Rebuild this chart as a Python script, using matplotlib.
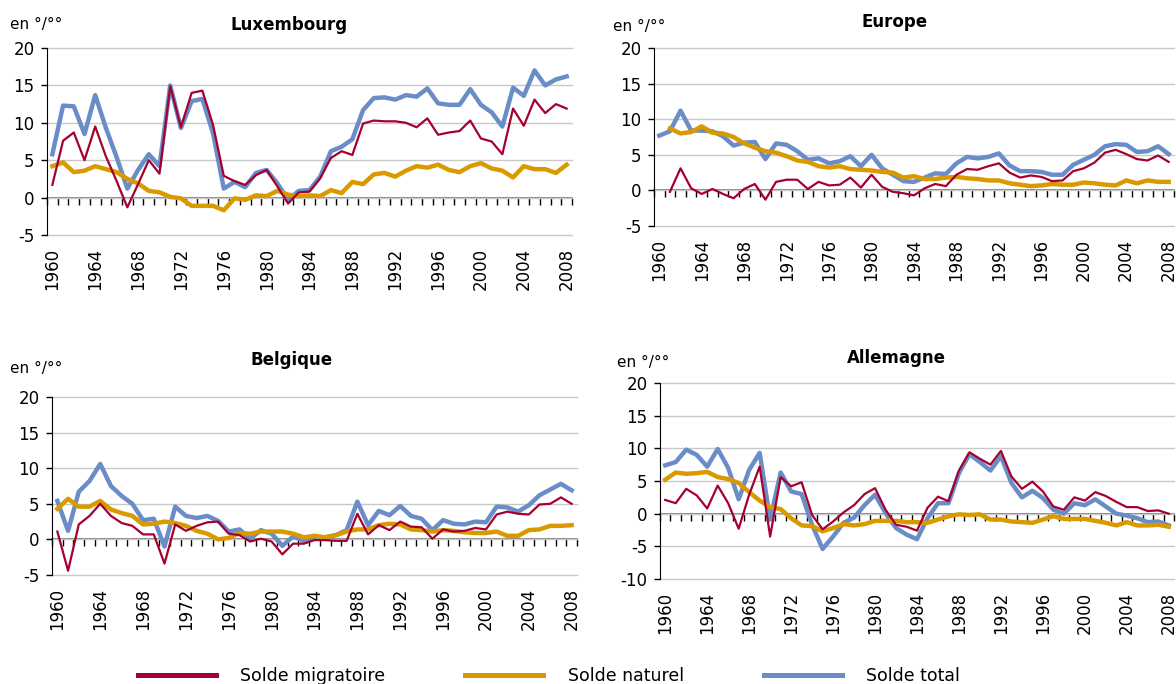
import matplotlib.pyplot as plt
from matplotlib.lines import Line2D
import numpy as np

plt.rcParams['axes.unicode_minus'] = False

years = list(range(1960, 2009))
label_years = list(range(1960, 2009, 4))
nan = float('nan')

# values in per mille
lux_migr = [1.7, 7.6, 8.7, 5.0, 9.5, 5.5, 2.2, -1.3, 1.8, 5.0,
            3.2, 14.9, 9.4, 14.0, 14.3, 9.7, 2.9, 2.2, 1.7, 3.0,
            3.7, 1.5, -0.8, 0.7, 0.8, 2.6, 5.3, 6.2, 5.7, 9.9,
            10.3, 10.2, 10.2, 10.0, 9.4, 10.6, 8.4, 8.7, 8.9, 10.3,
            7.9, 7.5, 5.8, 11.9, 9.6, 13.1, 11.3, 12.5, 11.9]
lux_nat = [4.2, 4.7, 3.4, 3.6, 4.2, 3.8, 3.4, 2.5, 1.9, 0.9,
           0.7, 0.1, -0.1, -1.1, -1.1, -1.1, -1.7, -0.1, -0.3, 0.3,
           0.2, 0.9, 0.4, 0.2, 0.3, 0.2, 1.0, 0.6, 2.1, 1.8,
           3.1, 3.3, 2.8, 3.6, 4.2, 4.0, 4.4, 3.7, 3.4, 4.2,
           4.6, 3.9, 3.6, 2.7, 4.2, 3.8, 3.8, 3.3, 4.4]
lux_tot = [5.8, 12.3, 12.2, 8.5, 13.7, 9.3, 5.4, 1.2, 3.7, 5.8,
           4.2, 15.0, 9.3, 12.9, 13.2, 8.6, 1.2, 2.1, 1.4, 3.3,
           3.7, 1.9, -0.3, 0.9, 1.0, 2.8, 6.2, 6.8, 7.8, 11.7,
           13.3, 13.4, 13.1, 13.7, 13.5, 14.6, 12.6, 12.4, 12.4, 14.5,
           12.4, 11.4, 9.5, 14.7, 13.6, 17.0, 15.0, 15.8, 16.2]

eu_migr = [nan, -0.2, 3.1, 0.3, -0.5, 0.2, -0.5, -1.1, 0.2, 0.9,
           -1.3, 1.2, 1.5, 1.5, 0.2, 1.2, 0.7, 0.8, 1.8, 0.4,
           2.2, 0.5, -0.2, -0.4, -0.7, 0.3, 0.9, 0.6, 2.2, 3.0,
           2.9, 3.4, 3.8, 2.5, 1.8, 2.1, 1.9, 1.3, 1.4, 2.7,
           3.1, 3.9, 5.3, 5.7, 5.1, 4.4, 4.2, 4.9, 4.0]
eu_nat = [nan, 8.7, 8.0, 8.2, 9.0, 8.1, 8.0, 7.5, 6.6, 6.0,
          5.5, 5.3, 4.8, 4.2, 4.0, 3.4, 3.2, 3.4, 3.0, 2.9,
          2.8, 2.6, 2.5, 1.8, 2.0, 1.6, 1.6, 1.8, 1.9, 1.7,
          1.6, 1.4, 1.4, 1.0, 0.8, 0.6, 0.7, 0.9, 0.8, 0.8,
          1.1, 1.0, 0.8, 0.7, 1.4, 1.0, 1.4, 1.2, 1.2]
eu_tot = [7.7, 8.3, 11.2, 8.4, 8.4, 8.3, 7.6, 6.3, 6.7, 6.8,
          4.4, 6.6, 6.4, 5.5, 4.3, 4.5, 3.8, 4.1, 4.8, 3.4,
          5.0, 3.1, 2.2, 1.3, 1.2, 1.8, 2.4, 2.3, 3.8, 4.7,
          4.5, 4.7, 5.2, 3.5, 2.7, 2.7, 2.6, 2.2, 2.2, 3.6,
          4.3, 5.0, 6.2, 6.5, 6.4, 5.4, 5.5, 6.2, 5.1]

be_migr = [1.1, -4.4, 2.1, 3.3, 5.0, 3.3, 2.3, 1.9, 0.7, 0.7,
           -3.4, 2.1, 1.2, 1.9, 2.4, 2.5, 0.8, 0.6, -0.3, 0.1,
           -0.3, -2.1, -0.6, -0.6, -0.1, -0.1, -0.2, -0.2, 3.6, 0.7,
           2.0, 1.3, 2.5, 1.8, 1.7, 0.1, 1.4, 1.1, 1.2, 1.6,
           1.4, 3.5, 3.9, 3.6, 3.5, 4.9, 5.0, 5.9, 5.0]
be_nat = [4.3, 5.7, 4.6, 4.6, 5.4, 4.2, 3.7, 3.3, 2.1, 2.2,
          2.5, 2.3, 1.9, 1.2, 0.8, 0.0, 0.2, 0.9, 0.8, 1.1,
          1.1, 1.1, 0.8, 0.3, 0.5, 0.3, 0.6, 1.1, 1.4, 1.4,
          2.0, 2.2, 2.1, 1.4, 1.3, 1.1, 1.3, 1.2, 1.0, 0.9,
          0.9, 1.1, 0.5, 0.5, 1.3, 1.4, 1.9, 1.9, 2.0]
be_tot = [5.4, 1.2, 6.7, 8.2, 10.6, 7.5, 6.1, 5.0, 2.7, 2.9,
          -1.0, 4.6, 3.3, 3.0, 3.3, 2.6, 1.1, 1.4, 0.1, 1.3,
          0.8, -0.9, 0.4, -0.2, 0.3, 0.3, 0.6, 1.3, 5.3, 2.0,
          4.0, 3.4, 4.7, 3.3, 2.9, 1.3, 2.7, 2.2, 2.1, 2.5,
          2.4, 4.6, 4.5, 3.9, 4.8, 6.2, 7.0, 7.8, 6.9]

de_migr = [2.1, 1.6, 3.8, 2.8, 0.8, 4.3, 1.6, -2.3, 2.9, 7.2,
           -3.5, 5.6, 4.2, 4.8, -0.2, -2.4, -1.2, 0.2, 1.3, 3.0,
           3.9, 0.6, -1.7, -2.0, -2.6, 0.9, 2.6, 1.9, 6.6, 9.4,
           8.4, 7.5, 9.6, 5.7, 3.8, 4.9, 3.4, 1.1, 0.6, 2.5,
           2.0, 3.3, 2.7, 1.8, 1.0, 1.0, 0.4, 0.5, 0.0]
de_nat = [5.2, 6.3, 6.1, 6.2, 6.4, 5.6, 5.3, 4.7, 3.3, 2.0,
          1.0, 0.7, -0.7, -1.8, -1.9, -2.7, -2.2, -1.6, -1.8, -1.6,
          -1.1, -1.1, -1.1, -1.3, -1.3, -1.4, -0.9, -0.4, -0.1, -0.2,
          -0.1, -0.9, -0.9, -1.2, -1.3, -1.4, -0.9, -0.4, -0.8, -0.8,
          -0.8, -1.1, -1.4, -1.8, -1.3, -1.8, -1.8, -1.7, -2.0]
de_tot = [7.4, 7.9, 9.8, 9.0, 7.2, 9.9, 7.0, 2.2, 6.7, 9.3,
          -0.9, 6.3, 3.4, 3.0, -1.7, -5.4, -3.5, -1.4, -0.6, 1.3,
          2.9, 0.1, -2.2, -3.2, -3.9, -0.7, 1.6, 1.6, 6.2, 9.1,
          7.9, 6.6, 8.8, 4.7, 2.5, 3.5, 2.4, 0.6, 0.0, 1.6,
          1.3, 2.2, 1.1, 0.0, -0.3, -0.7, -1.3, -1.2, -1.8]

series_names = ['Solde migratoire', 'Solde naturel', 'Solde total']

W, H = 1176, 684
fig = plt.figure(figsize=(W / 100, H / 100), dpi=100)

c_migr = '#A5002F'
c_nat = '#D99A00'
c_tot = '#6A8DC8'


def box(left, top, right, bottom):
    return [left / W, 1 - bottom / H, (right - left) / W, (bottom - top) / H]


panels = [
    ('Luxembourg', box(47, 48, 572, 235), (-5, 20), lux_migr, lux_nat, lux_tot, (289, 25), (10, 25)),
    ('Europe', box(654, 48, 1174, 226), (-5, 20), eu_migr, eu_nat, eu_tot, (895, 22), (613, 27)),
    ('Belgique', box(52, 397, 577, 575), (-5, 20), be_migr, be_nat, be_tot, (292, 360), (10, 369)),
    ('Allemagne', box(660, 383, 1174, 579), (-10, 20), de_migr, de_nat, de_tot, (896, 358), (617, 362)),
]

for title, rect, (lo, hi), migr, nat, tot, tpos, upos in panels:
    ax = fig.add_axes(rect)
    ax.plot(years, tot, color=c_tot, lw=3.2, zorder=2)
    ax.plot(years, nat, color=c_nat, lw=3.2, zorder=3)
    ax.plot(years, migr, color=c_migr, lw=1.6, zorder=4)

    ax.set_xlim(1959.5, 2008.5)
    ax.set_ylim(lo, hi)
    ax.set_yticks(range(lo, hi + 1, 5))
    ax.set_xticks(label_years)
    ax.set_xticklabels([str(y) for y in label_years])
    ax.tick_params(axis='x', length=0, pad=9, labelrotation=90, labelsize=12)
    ax.tick_params(axis='y', direction='out', length=4, width=1, pad=5, labelsize=12)

    ax.yaxis.grid(True, color='#C8C8C8', lw=1)
    for gl in ax.get_ygridlines():
        gl.set_clip_on(False)
    ax.set_axisbelow(True)
    for s in ['top', 'right', 'bottom']:
        ax.spines[s].set_visible(False)
    ax.spines['left'].set_color('black')

    # zero line with year ticks between categories
    sec = ax.secondary_xaxis((0 - lo) / (hi - lo))
    sec.set_xticks(np.arange(1959.5, 2009, 1))
    sec.tick_params(direction='out', length=5, width=1, labelbottom=False, color='black')
    sec.spines['bottom'].set_color('#707070')
    sec.spines['bottom'].set_linewidth(1.2)

    fig.text(tpos[0] / W, 1 - tpos[1] / H, title, ha='center', va='center',
             fontsize=12, fontweight='bold')
    fig.text(upos[0] / W, 1 - upos[1] / H, 'en °/°°', ha='left', va='center', fontsize=11)

handles = [Line2D([], [], color=c, lw=3.6) for c in (c_migr, c_nat, c_tot)]
fig.legend(handles, series_names,
           loc='center', bbox_to_anchor=(549 / W, 1 - 676 / H), ncol=3, frameon=False,
           fontsize=12.5, handlelength=4.5, handletextpad=1.4, columnspacing=4.6)

plt.savefig('out.png', dpi=100)
